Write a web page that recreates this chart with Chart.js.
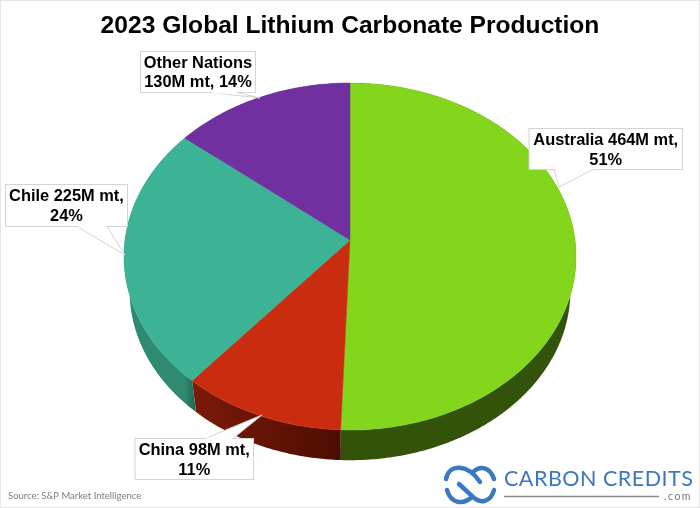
<!DOCTYPE html>
<html>
<head>
<meta charset="utf-8">
<title>2023 Global Lithium Carbonate Production</title>
<script src="https://cdn.jsdelivr.net/npm/chart.js@4"></script>
<style>
  html, body { margin: 0; padding: 0; background: #fff; }
  canvas { display: block; }
</style>
</head>
<body>
<canvas id="myChart" width="700" height="508"></canvas>
<script>
const categories = ['Australia', 'China', 'Chile', 'Other Nations'];
const production = [464, 98, 225, 130];
const labelLines = [
    ['Australia 464M mt,', '51%'],
    ['China 98M mt,', '11%'],
    ['Chile 225M mt,', '24%'],
    ['Other Nations', '130M mt, 14%']
];
const topColors = ['#84d61c', '#c92c0e', '#3bb394', '#7030a0'];
const wallColors = [['#33520a', '#33520a'], ['#7c1a09', '#4c0d01'], ['#2f8a70', '#236f5b'], ['#4a2070', '#4a2070']];

// callout boxes: [left, top, right, bottom], tail [baseA x, tip x, tip y, baseB x]
const callouts = [
    { box: [529, 128.5, 682.5, 169.5], tail: [554, 559, 187, 593], textY: [140.5, 160] },
    { box: [135, 438.5, 253.5, 479.5], tail: [205, 262, 415, 233], textY: [450, 470] },
    { box: [5.5, 184.5, 127.5, 226.5], tail: [77, 125, 255, 107], textY: [196, 216] },
    { box: [140.5, 51.5, 255.5, 92.5], tail: [211, 260, 98, 237], textY: [63, 82] }
];

// the picture is a tilted pie seen in perspective, so the circle gets projected
const persp = -0.0951, stretchX = 1.433, stretchY = 1.095;
const wallScale = 0.975, wallDrop = 35;

function project(arc, angle, scale, drop) {
    const u = Math.cos(angle), v = Math.sin(angle);
    const w = 1 + persp * v;
    return {
        x: arc.x + scale * stretchX * arc.outerRadius * u / w,
        y: arc.y + drop + scale * stretchY * arc.outerRadius * v / w
    };
}

function traceRim(ctx, arc, from, to, scale, drop) {
    const steps = Math.ceil(Math.abs(to - from) / 0.01);
    for (let i = 0; i <= steps; i++) {
        const p = project(arc, from + (to - from) * i / steps, scale, drop);
        ctx.lineTo(p.x, p.y);
    }
}

const tiltedPie = {
    id: 'tiltedPie',
    beforeDatasetsDraw(chart) {
        const ctx = chart.ctx;
        const arcs = chart.getDatasetMeta(0).data;

        // side walls first, the top covers whatever sits behind it
        arcs.forEach((arc, i) => {
            const a = project(arc, arc.startAngle, 1, 0);
            const b = project(arc, arc.endAngle, 1, 0);
            const g = ctx.createLinearGradient(Math.min(a.x, b.x), 0, Math.max(a.x, b.x), 0);
            g.addColorStop(0, wallColors[i][0]);
            g.addColorStop(1, wallColors[i][1]);
            ctx.beginPath();
            ctx.moveTo(a.x, a.y);
            traceRim(ctx, arc, arc.startAngle, arc.endAngle, 1, 0);
            traceRim(ctx, arc, arc.endAngle, arc.startAngle, wallScale, wallDrop);
            ctx.closePath();
            ctx.fillStyle = g;
            ctx.fill();
        });

        arcs.forEach((arc, i) => {
            ctx.beginPath();
            ctx.moveTo(arc.x, arc.y);
            traceRim(ctx, arc, arc.startAngle, arc.endAngle, 1, 0);
            ctx.closePath();
            ctx.fillStyle = topColors[i];
            ctx.fill();
            ctx.strokeStyle = topColors[i];
            ctx.lineWidth = 0.5;
            ctx.stroke();
        });

        callouts.forEach((c, i) => drawCallout(ctx, c, labelLines[i]));
        return false;
    },
    afterDraw(chart) {
        drawFooter(chart.ctx);
    }
};

function drawCallout(ctx, c, lines) {
    const [l, t, r, b] = c.box;
    const [baseA, tipX, tipY, baseB] = c.tail;
    const edge = tipY < t ? t : b;
    ctx.save();
    ctx.fillStyle = '#fff';
    ctx.strokeStyle = '#d4d4d4';
    ctx.lineWidth = 1;
    ctx.fillRect(l, t, r - l, b - t);
    ctx.strokeRect(l, t, r - l, b - t);
    ctx.beginPath();
    ctx.moveTo(baseA, edge);
    ctx.lineTo(tipX, tipY);
    ctx.lineTo(baseB, edge);
    ctx.fill();
    ctx.stroke();
    // open the box edge where the tail joins it
    ctx.fillRect(Math.min(baseA, baseB) + 1.5, edge - 1, Math.abs(baseB - baseA) - 3, 2);

    ctx.fillStyle = '#000';
    ctx.font = 'bold 16.4px "Liberation Sans"';
    ctx.textAlign = 'center';
    ctx.textBaseline = 'middle';
    const cx = (l + r) / 2;
    ctx.fillText(lines[0], cx, c.textY[0]);
    ctx.fillText(lines[1], cx, c.textY[1]);
    ctx.restore();
}

function drawFooter(ctx) {
    ctx.save();
    // thin frame round the picture
    ctx.strokeStyle = '#e6e6e6';
    ctx.lineWidth = 2;
    ctx.strokeRect(0, 0, 700, 508);

    ctx.fillStyle = '#7f7f7f';
    ctx.font = '9.5px Lato';
    ctx.textAlign = 'left';
    ctx.textBaseline = 'middle';
    ctx.fillText('Source: S&P Market Intelligence', 8, 496);

    // logo
    const blue = '#3b78c4';
    ctx.strokeStyle = blue;
    ctx.lineWidth = 4.5;
    ctx.lineCap = 'round';
    ctx.beginPath();
    ctx.moveTo(446, 479);
    ctx.bezierCurveTo(449, 463, 468, 464, 480, 482);
    ctx.moveTo(473, 472);
    ctx.bezierCurveTo(480, 465, 490, 467, 494, 479);
    ctx.moveTo(447, 490);
    ctx.bezierCurveTo(451, 504, 463, 505, 472, 497);
    ctx.moveTo(459, 484);
    ctx.lineTo(471, 495);
    ctx.bezierCurveTo(481, 506, 491, 501, 494, 490);
    ctx.stroke();

    ctx.fillStyle = blue;
    ctx.font = '21.5px Lato';
    ctx.letterSpacing = '0.5px';
    ctx.fillText('CARBON CREDITS', 504, 479);
    ctx.letterSpacing = '1.5px';
    ctx.fillStyle = '#777';
    ctx.font = '10.5px Lato';
    ctx.fillText('.com', 664, 497);
    ctx.letterSpacing = '0px';
    ctx.strokeStyle = '#8c8c8c';
    ctx.lineWidth = 1.5;
    ctx.lineCap = 'butt';
    ctx.beginPath();
    ctx.moveTo(504, 496.5);
    ctx.lineTo(659, 496.5);
    ctx.stroke();
    ctx.restore();
}

new Chart(document.getElementById('myChart').getContext('2d'), {
    type: 'pie',
    data: {
        labels: categories,
        datasets: [{ data: production, backgroundColor: topColors, borderWidth: 0 }]
    },
    options: {
        responsive: false,
        animation: false,
        layout: { padding: { bottom: 111 } },
        plugins: {
            legend: { display: false },
            tooltip: { enabled: false },
            title: {
                display: true,
                text: '2023 Global Lithium Carbonate Production',
                color: '#000',
                font: { family: '"Liberation Sans"', size: 24.6, weight: 'bold', lineHeight: 1.2 },
                padding: { top: 11, bottom: 42.5 }
            }
        }
    },
    plugins: [tiltedPie]
});
</script>
</body>
</html>
